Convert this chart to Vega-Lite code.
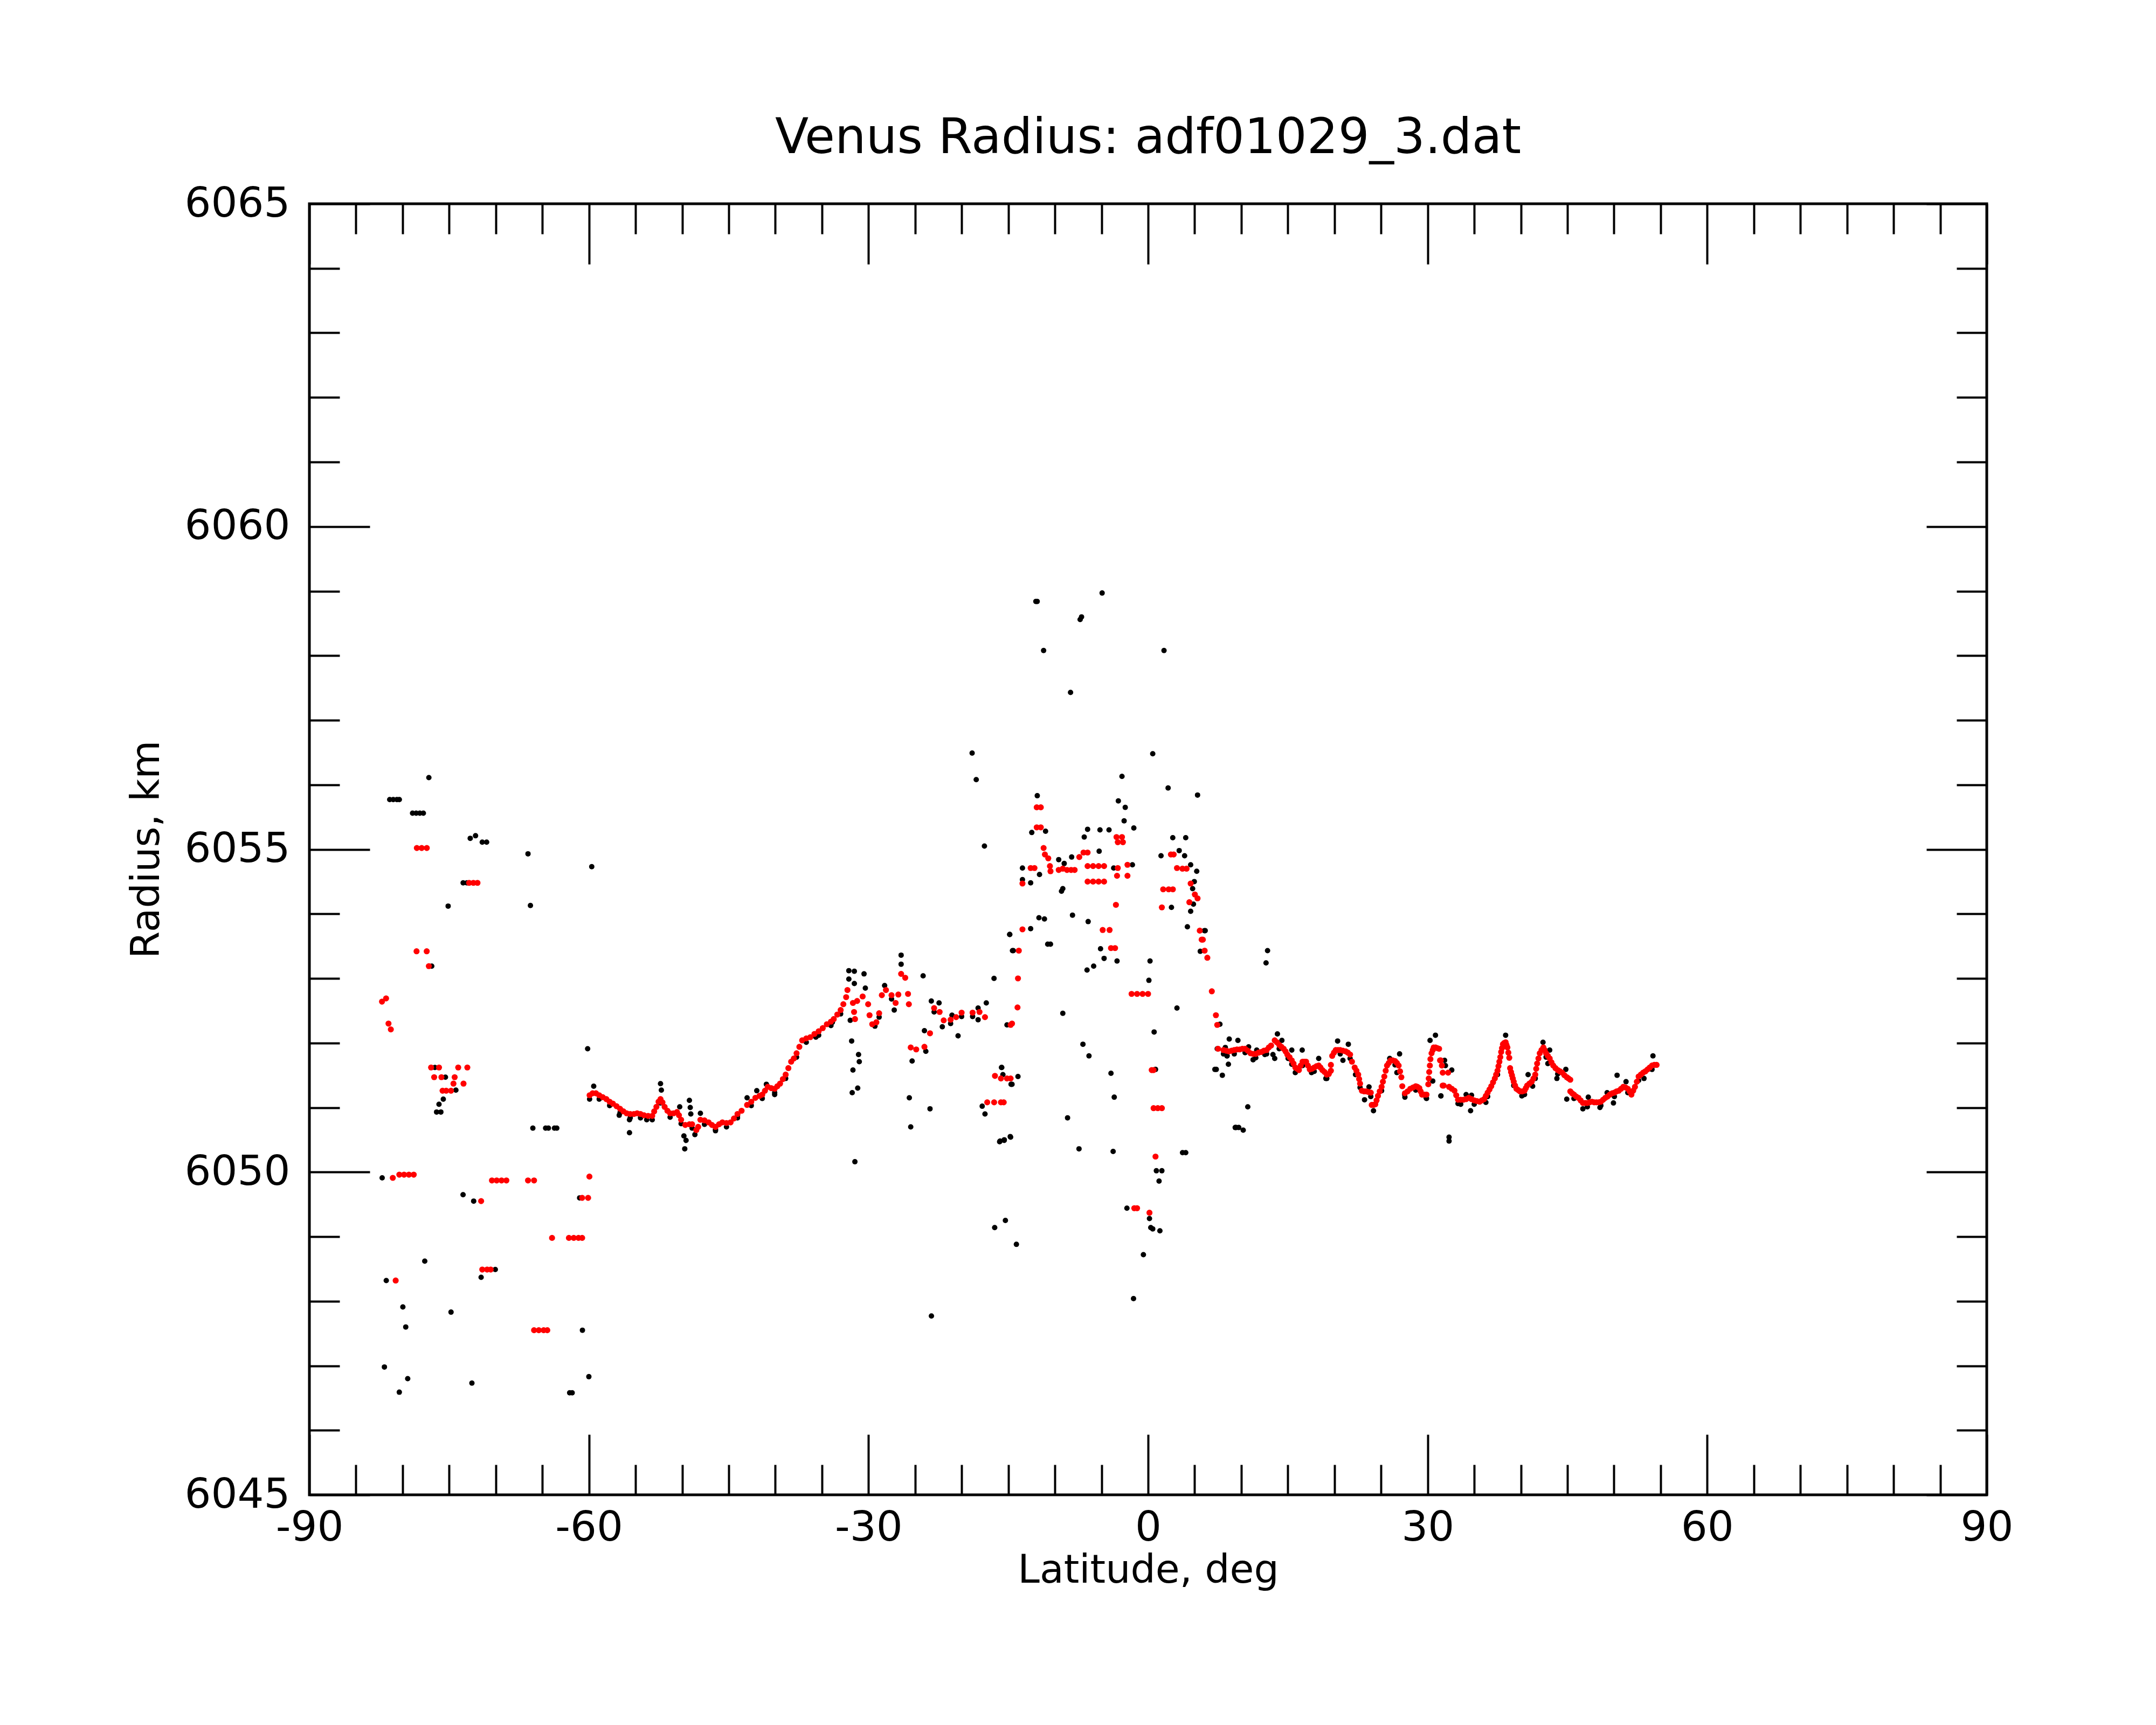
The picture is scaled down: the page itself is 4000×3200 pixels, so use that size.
{
"$schema": "https://vega.github.io/schema/vega-lite/v6.json",
"width": 3112, "height": 2395,
"autosize": {"type": "none"},
"padding": {"left": 574, "top": 378, "right": 314, "bottom": 427},
"background": "white",
"title": {"text": "Venus Radius: adf01029_3.dat", "fontSize": 91, "fontWeight": "normal", "font": "DejaVu Sans", "color": "black", "anchor": "middle", "baseline": "alphabetic", "offset": -36, "frame": "group"},
"config": {
 "font": "DejaVu Sans",
 "view": {"stroke": "black", "strokeWidth": 5},
 "axis": {"grid": false, "domain": false, "tickColor": "black", "tickWidth": 4, "labelColor": "black", "titleColor": "black", "labelFont": "DejaVu Sans", "titleFont": "DejaVu Sans", "labelFontSize": 77, "titleFontSize": 73, "titleFontWeight": "normal", "labelFlush": false, "labelOverlap": false, "labelBound": false, "labelLimit": 0}
},
"resolve": {"axis": {"x": "independent", "y": "independent"}},
"datasets": {
"raw": [
{"lat":-77.18,"r":6056.11},{"lat":-81.38,"r":6055.77},{"lat":-81.0,"r":6055.77},{"lat":-80.61,"r":6055.77},{"lat":-80.35,"r":6055.77},
{"lat":-78.93,"r":6055.56},{"lat":-78.54,"r":6055.56},{"lat":-78.15,"r":6055.56},{"lat":-77.77,"r":6055.56},
{"lat":-72.74,"r":6055.17},{"lat":-72.17,"r":6055.21},{"lat":-71.45,"r":6055.11},{"lat":-70.98,"r":6055.11},
{"lat":-66.54,"r":6054.93},{"lat":-59.7,"r":6054.73},{"lat":-73.5,"r":6054.48},{"lat":-73.1,"r":6054.48},
{"lat":-75.11,"r":6054.12},{"lat":-66.28,"r":6054.13},{"lat":-76.87,"r":6053.19},{"lat":-60.14,"r":6051.91},
{"lat":-76.53,"r":6051.62},{"lat":-75.4,"r":6051.47},{"lat":-74.28,"r":6051.27},
{"lat":-75.63,"r":6051.13},{"lat":-76.09,"r":6051.05},{"lat":-76.35,"r":6050.93},{"lat":-75.89,"r":6050.93},
{"lat":-66.02,"r":6050.68},{"lat":-64.65,"r":6050.68},{"lat":-64.35,"r":6050.68},{"lat":-63.7,"r":6050.68},{"lat":-63.45,"r":6050.68},
{"lat":-82.19,"r":6049.91},{"lat":-73.51,"r":6049.65},{"lat":-72.37,"r":6049.55},{"lat":-61.0,"r":6049.6},
{"lat":-77.62,"r":6048.62},{"lat":-81.75,"r":6048.32},{"lat":-70.05,"r":6048.49},{"lat":-71.57,"r":6048.37},
{"lat":-79.97,"r":6047.91},{"lat":-79.66,"r":6047.6},{"lat":-74.8,"r":6047.83},{"lat":-60.7,"r":6047.55},
{"lat":-81.95,"r":6046.98},{"lat":-79.45,"r":6046.8},{"lat":-80.35,"r":6046.59},{"lat":-72.56,"r":6046.73},{"lat":-62.07,"r":6046.58},{"lat":-61.8,"r":6046.58},{"lat":-60.01,"r":6046.83},
{"lat":-59.49,"r":6051.33},{"lat":-56.75,"r":6050.88},{"lat":-55.65,"r":6050.81},{"lat":-55.65,"r":6050.61},{"lat":-53.8,"r":6050.81},{"lat":-52.32,"r":6051.37},{"lat":-52.23,"r":6051.27},{"lat":-50.26,"r":6051.01},{"lat":-49.22,"r":6051.11},{"lat":-49.13,"r":6051.0},{"lat":-49.07,"r":6050.9},{"lat":-49.81,"r":6050.56},{"lat":-49.58,"r":6050.49},{"lat":-49.72,"r":6050.36},{"lat":-48.63,"r":6050.58},{"lat":-48.04,"r":6050.91},{"lat":-46.42,"r":6050.66},{"lat":-44.06,"r":6050.87},{"lat":-43.03,"r":6051.15},{"lat":-41.99,"r":6051.26},{"lat":-40.96,"r":6051.36},{"lat":-40.07,"r":6051.2},{"lat":-35.65,"r":6052.09},{"lat":-33.88,"r":6052.32},{"lat":-32.11,"r":6053.12},{"lat":-31.52,"r":6053.11},{"lat":-30.48,"r":6053.07},{"lat":-32.11,"r":6052.99},{"lat":-31.52,"r":6052.92},{"lat":-30.34,"r":6052.85},{"lat":-31.96,"r":6052.35},{"lat":-31.81,"r":6052.03},{"lat":-31.07,"r":6051.82},{"lat":-30.99,"r":6051.71},{"lat":-31.67,"r":6051.58},{"lat":-31.75,"r":6051.23},{"lat":-31.16,"r":6051.3},{"lat":-31.46,"r":6050.16},{"lat":-29.31,"r":6052.26},{"lat":-28.27,"r":6052.89},{"lat":-27.24,"r":6052.51},{"lat":-26.5,"r":6053.36},{"lat":-26.5,"r":6053.22},{"lat":-24.14,"r":6053.04},{"lat":-25.62,"r":6051.15},{"lat":-25.47,"r":6050.7},{"lat":-25.32,"r":6051.72},{"lat":-24.0,"r":6052.19},{"lat":-23.85,"r":6051.87},{"lat":-23.4,"r":6050.98},{"lat":-23.26,"r":6052.65},{"lat":-22.43,"r":6052.62},{"lat":-22.08,"r":6052.25},{"lat":-21.04,"r":6052.43},{"lat":-20.39,"r":6052.11},{"lat":-18.24,"r":6052.54},{"lat":-17.36,"r":6052.62},{"lat":-18.24,"r":6052.36},{"lat":-16.53,"r":6053.0},{"lat":-14.85,"r":6053.68},{"lat":-14.55,"r":6053.43},{"lat":-17.8,"r":6051.02},{"lat":-17.5,"r":6050.9},{"lat":-15.73,"r":6051.62},{"lat":-15.58,"r":6051.51},{"lat":-15.88,"r":6050.48},{"lat":-15.44,"r":6050.49},{"lat":-14.79,"r":6050.55},{"lat":-14.7,"r":6051.36},
{"lat":-23.25,"r":6047.77},{"lat":-18.88,"r":6056.49},{"lat":-18.44,"r":6056.08},{"lat":-17.56,"r":6055.05},{"lat":-16.46,"r":6049.14},{"lat":-15.31,"r":6049.25},{"lat":-14.13,"r":6048.88},
{"lat":-12.04,"r":6058.84},{"lat":-11.9,"r":6058.84},{"lat":-4.93,"r":6058.97},{"lat":-7.29,"r":6058.56},{"lat":-7.14,"r":6058.6},{"lat":-11.21,"r":6058.08},{"lat":1.71,"r":6058.08},{"lat":-8.32,"r":6057.43},{"lat":0.5,"r":6056.48},{"lat":-2.8,"r":6056.13},{"lat":2.15,"r":6055.95},{"lat":5.31,"r":6055.84},{"lat":-11.89,"r":6055.83},{"lat":-3.19,"r":6055.75},{"lat":-2.45,"r":6055.65},{"lat":-2.57,"r":6055.44},{"lat":-1.53,"r":6055.33},{"lat":-4.19,"r":6055.3},{"lat":-5.16,"r":6055.3},{"lat":-6.49,"r":6055.31},{"lat":-6.85,"r":6055.19},{"lat":-12.48,"r":6055.26},{"lat":-11.0,"r":6055.28},{"lat":-5.25,"r":6054.97},{"lat":-3.69,"r":6054.71},{"lat":-1.68,"r":6054.76},{"lat":2.65,"r":6055.18},{"lat":4.04,"r":6055.18},{"lat":3.34,"r":6054.98},{"lat":3.92,"r":6054.9},{"lat":1.39,"r":6054.9},{"lat":4.57,"r":6054.76},{"lat":5.22,"r":6054.66},{"lat":4.96,"r":6054.5},{"lat":4.78,"r":6054.39},{"lat":4.87,"r":6054.15},{"lat":4.57,"r":6054.04},{"lat":4.22,"r":6053.8},{"lat":2.51,"r":6054.1},{"lat":6.05,"r":6053.74},{"lat":5.6,"r":6053.42},{"lat":-13.48,"r":6054.71},{"lat":-13.48,"r":6054.53},{"lat":-12.6,"r":6054.48},{"lat":-11.65,"r":6054.61},{"lat":-9.59,"r":6054.84},{"lat":-9.0,"r":6054.78},{"lat":-8.2,"r":6054.88},{"lat":-9.15,"r":6054.39},{"lat":-9.29,"r":6054.35},{"lat":-8.11,"r":6053.98},{"lat":-6.43,"r":6053.88},{"lat":-11.71,"r":6053.94},{"lat":-11.12,"r":6053.92},{"lat":-12.6,"r":6053.77},{"lat":-14.84,"r":6053.68},{"lat":-14.46,"r":6053.43},{"lat":-10.77,"r":6053.53},{"lat":-10.47,"r":6053.53},{"lat":-6.55,"r":6053.13},{"lat":-5.84,"r":6053.19},{"lat":-5.1,"r":6053.46},{"lat":-4.72,"r":6053.31},{"lat":-3.33,"r":6053.27},{"lat":0.21,"r":6053.27},{"lat":0.09,"r":6052.97},{"lat":3.1,"r":6052.54},{"lat":-9.15,"r":6052.46},{"lat":-15.14,"r":6052.28},{"lat":-6.99,"r":6051.98},{"lat":-6.34,"r":6051.8},{"lat":0.65,"r":6052.17},{"lat":-3.98,"r":6051.53},{"lat":-3.63,"r":6051.16},{"lat":-8.64,"r":6050.84},{"lat":0.8,"r":6051.59},{"lat":4.04,"r":6050.3},{"lat":3.7,"r":6050.3},{"lat":-7.41,"r":6050.36},{"lat":-3.75,"r":6050.32},{"lat":0.89,"r":6050.02},{"lat":1.18,"r":6049.86},{"lat":1.48,"r":6050.02},{"lat":-2.27,"r":6049.44},{"lat":0.15,"r":6049.28},{"lat":0.29,"r":6049.14},{"lat":0.5,"r":6049.12},{"lat":1.27,"r":6049.09},{"lat":-0.5,"r":6048.72},{"lat":-1.56,"r":6048.04},{"lat":-15.93,"r":6050.47},{"lat":-15.43,"r":6050.5},{"lat":-14.75,"r":6050.54},{"lat":-13.96,"r":6051.48},{"lat":-15.7,"r":6051.62},{"lat":-14.6,"r":6051.36},{"lat":7.17,"r":6051.59},{"lat":7.97,"r":6051.5},{"lat":8.47,"r":6051.8},{"lat":8.62,"r":6051.67},{"lat":8.71,"r":6052.06},{"lat":9.44,"r":6050.69},
{"lat":6.13,"r":6053.74},{"lat":12.82,"r":6053.43},{"lat":12.66,"r":6053.24},{"lat":7.71,"r":6052.29},{"lat":7.42,"r":6051.91},{"lat":9.64,"r":6052.04},{"lat":8.29,"r":6051.93},{"lat":8.48,"r":6051.8},{"lat":7.32,"r":6051.59},{"lat":10.7,"r":6051.01},{"lat":9.35,"r":6050.69},{"lat":9.73,"r":6050.69},{"lat":10.21,"r":6050.65},{"lat":10.79,"r":6051.94},{"lat":11.27,"r":6051.74},{"lat":11.66,"r":6051.89},{"lat":12.53,"r":6051.82},{"lat":13.4,"r":6051.82},{"lat":13.59,"r":6051.76},{"lat":13.88,"r":6052.14},{"lat":14.36,"r":6052.04},{"lat":15.03,"r":6051.76},{"lat":15.42,"r":6051.89},{"lat":15.8,"r":6051.54},{"lat":16.54,"r":6051.89},{"lat":17.54,"r":6051.54},{"lat":18.31,"r":6051.76},{"lat":19.08,"r":6051.45},{"lat":20.34,"r":6052.03},{"lat":20.91,"r":6051.73},{"lat":21.49,"r":6051.98},{"lat":22.26,"r":6051.51},{"lat":23.23,"r":6051.12},{"lat":23.71,"r":6051.32},{"lat":24.19,"r":6050.95},{"lat":25.93,"r":6051.76},{"lat":26.99,"r":6051.83},{"lat":26.7,"r":6051.54},{"lat":27.53,"r":6051.2},{"lat":29.84,"r":6051.15},{"lat":30.26,"r":6052.04},{"lat":30.84,"r":6052.12},{"lat":30.55,"r":6051.41},{"lat":31.42,"r":6051.18},
{"lat":31.82,"r":6051.73},{"lat":31.91,"r":6051.65},{"lat":32.59,"r":6051.58},{"lat":31.43,"r":6051.18},{"lat":32.3,"r":6050.54},{"lat":32.3,"r":6050.48},{"lat":33.55,"r":6051.05},{"lat":34.61,"r":6050.95},{"lat":34.13,"r":6051.2},{"lat":34.71,"r":6051.19},{"lat":36.25,"r":6051.08},{"lat":38.37,"r":6052.12},{"lat":40.78,"r":6051.51},{"lat":41.27,"r":6051.33},{"lat":40.11,"r":6051.18},{"lat":42.38,"r":6052.01},{"lat":43.1,"r":6051.89},{"lat":42.9,"r":6051.68},{"lat":43.87,"r":6051.45},{"lat":44.83,"r":6051.59},{"lat":44.93,"r":6051.13},{"lat":46.66,"r":6050.98},{"lat":47.24,"r":6051.16},{"lat":48.49,"r":6051.0},{"lat":49.26,"r":6051.23},{"lat":49.94,"r":6051.07},{"lat":50.33,"r":6051.5},{"lat":51.29,"r":6051.4},{"lat":53.22,"r":6051.45},{"lat":54.18,"r":6051.8},
{"lat":-59.93,"r":6051.13},{"lat":-58.9,"r":6051.13},{"lat":-57.78,"r":6051.03},{"lat":-56.66,"r":6050.92},{"lat":-55.57,"r":6050.84},{"lat":-54.47,"r":6050.84},{"lat":-53.21,"r":6050.81},{"lat":-52.32,"r":6051.07},{"lat":-51.29,"r":6050.85},{"lat":-50.11,"r":6050.75},{"lat":-48.93,"r":6050.68},{"lat":-47.6,"r":6050.74},{"lat":-46.42,"r":6050.64},{"lat":-45.24,"r":6050.7},{"lat":-44.06,"r":6050.84},{"lat":-42.58,"r":6051.03},{"lat":-41.4,"r":6051.14},{"lat":-40.07,"r":6051.23},{"lat":-38.89,"r":6051.45},{"lat":-37.72,"r":6051.78},{"lat":-36.68,"r":6052.01},{"lat":-35.35,"r":6052.12},{"lat":-34.03,"r":6052.27},{"lat":-32.99,"r":6052.45},{"lat":-28.86,"r":6052.4},{"lat":-27.53,"r":6052.68},{"lat":-22.96,"r":6052.48},{"lat":-21.19,"r":6052.3},{"lat":-20.01,"r":6052.41},{"lat":-18.83,"r":6052.41},
{"lat":8.09,"r":6051.83},{"lat":9.25,"r":6051.83},{"lat":10.41,"r":6051.85},{"lat":11.56,"r":6051.77},{"lat":12.72,"r":6051.83},{"lat":14.07,"r":6051.91},{"lat":15.42,"r":6051.67},{"lat":16.58,"r":6051.65},{"lat":17.83,"r":6051.56},{"lat":19.18,"r":6051.45},{"lat":20.62,"r":6051.83},{"lat":21.68,"r":6051.76},{"lat":22.75,"r":6051.31},{"lat":23.9,"r":6051.17},{"lat":25.06,"r":6051.26},{"lat":26.5,"r":6051.66},{"lat":27.56,"r":6051.16},{"lat":28.72,"r":6051.27},{"lat":29.88,"r":6051.14},{"lat":33.26,"r":6051.06},{"lat":35.0,"r":6051.05},{"lat":36.44,"r":6051.17},{"lat":37.5,"r":6051.51},{"lat":39.24,"r":6051.34},{"lat":40.4,"r":6051.2},{"lat":41.55,"r":6051.45},{"lat":42.71,"r":6051.78},{"lat":43.96,"r":6051.52},{"lat":45.7,"r":6051.14},{"lat":47.14,"r":6051.01},{"lat":48.59,"r":6051.03},{"lat":50.04,"r":6051.17},{"lat":51.48,"r":6051.23},{"lat":52.64,"r":6051.42},{"lat":54.08,"r":6051.59}
],
"fit": [
{"lat":-82.21,"r":6052.64},{"lat":-81.77,"r":6052.69},{"lat":-81.51,"r":6052.3},{"lat":-81.26,"r":6052.21},
{"lat":-81.05,"r":6049.91},{"lat":-80.35,"r":6049.96},{"lat":-79.84,"r":6049.96},{"lat":-79.32,"r":6049.96},{"lat":-78.8,"r":6049.96},
{"lat":-80.74,"r":6048.32},
{"lat":-78.47,"r":6055.02},{"lat":-77.95,"r":6055.02},{"lat":-77.4,"r":6055.02},
{"lat":-78.5,"r":6053.42},{"lat":-77.41,"r":6053.42},{"lat":-77.18,"r":6053.19},
{"lat":-76.94,"r":6051.62},{"lat":-76.09,"r":6051.62},{"lat":-74.03,"r":6051.62},{"lat":-73.05,"r":6051.62},
{"lat":-76.61,"r":6051.47},{"lat":-75.83,"r":6051.47},{"lat":-74.41,"r":6051.47},
{"lat":-74.54,"r":6051.37},{"lat":-73.46,"r":6051.37},
{"lat":-75.71,"r":6051.26},{"lat":-75.32,"r":6051.26},{"lat":-74.8,"r":6051.26},
{"lat":-72.86,"r":6054.48},{"lat":-72.4,"r":6054.48},{"lat":-71.96,"r":6054.48},
{"lat":-71.57,"r":6049.55},
{"lat":-70.41,"r":6049.87},{"lat":-69.9,"r":6049.87},{"lat":-69.38,"r":6049.87},{"lat":-68.86,"r":6049.87},
{"lat":-66.54,"r":6049.87},{"lat":-65.89,"r":6049.87},
{"lat":-71.45,"r":6048.49},{"lat":-70.93,"r":6048.49},{"lat":-70.54,"r":6048.49},
{"lat":-65.89,"r":6047.55},{"lat":-65.38,"r":6047.55},{"lat":-64.86,"r":6047.55},{"lat":-64.47,"r":6047.55},
{"lat":-63.96,"r":6048.98},{"lat":-62.15,"r":6048.98},{"lat":-61.63,"r":6048.98},{"lat":-61.12,"r":6048.98},{"lat":-60.73,"r":6048.98},
{"lat":-60.73,"r":6049.6},{"lat":-60.09,"r":6049.6},{"lat":-59.95,"r":6049.93},
{"lat":-59.93,"r":6051.19},{"lat":-59.61,"r":6051.22},{"lat":-59.25,"r":6051.22},{"lat":-58.9,"r":6051.19},{"lat":-58.52,"r":6051.16},{"lat":-58.13,"r":6051.13},{"lat":-57.78,"r":6051.09},{"lat":-57.43,"r":6051.06},{"lat":-57.04,"r":6051.02},{"lat":-56.66,"r":6050.98},{"lat":-56.3,"r":6050.94},{"lat":-55.95,"r":6050.91},{"lat":-55.57,"r":6050.9},{"lat":-55.18,"r":6050.9},{"lat":-54.83,"r":6050.91},{"lat":-54.47,"r":6050.9},{"lat":-54.09,"r":6050.88},{"lat":-53.65,"r":6050.87},{"lat":-53.21,"r":6050.87},{"lat":-53.0,"r":6050.94},{"lat":-52.76,"r":6051.01},{"lat":-52.53,"r":6051.09},{"lat":-52.32,"r":6051.13},{"lat":-52.11,"r":6051.08},{"lat":-51.88,"r":6051.01},{"lat":-51.58,"r":6050.95},{"lat":-51.29,"r":6050.91},{"lat":-50.93,"r":6050.91},{"lat":-50.55,"r":6050.93},{"lat":-50.34,"r":6050.88},{"lat":-50.11,"r":6050.81},{"lat":-49.66,"r":6050.73},{"lat":-49.22,"r":6050.74},{"lat":-48.93,"r":6050.74},{"lat":-48.48,"r":6050.65},{"lat":-48.28,"r":6050.7},{"lat":-48.04,"r":6050.81},{"lat":-47.6,"r":6050.8},{"lat":-47.16,"r":6050.77},{"lat":-46.8,"r":6050.73},{"lat":-46.42,"r":6050.7},{"lat":-46.04,"r":6050.74},{"lat":-45.68,"r":6050.77},{"lat":-45.24,"r":6050.76},{"lat":-44.8,"r":6050.77},{"lat":-44.44,"r":6050.83},{"lat":-44.06,"r":6050.9},{"lat":-43.62,"r":6050.95},{"lat":-43.03,"r":6051.04},{"lat":-42.58,"r":6051.09},{"lat":-42.14,"r":6051.15},{"lat":-41.7,"r":6051.18},{"lat":-41.4,"r":6051.2},{"lat":-41.11,"r":6051.26},{"lat":-40.81,"r":6051.32},{"lat":-40.43,"r":6051.3},{"lat":-40.07,"r":6051.29},{"lat":-39.78,"r":6051.33},{"lat":-39.49,"r":6051.37},{"lat":-39.19,"r":6051.44},{"lat":-38.89,"r":6051.51},{"lat":-38.6,"r":6051.61},{"lat":-38.3,"r":6051.71},{"lat":-38.01,"r":6051.76},{"lat":-37.72,"r":6051.84},{"lat":-37.42,"r":6051.94},{"lat":-37.12,"r":6052.04},{"lat":-36.68,"r":6052.07},{"lat":-36.24,"r":6052.09},{"lat":-35.8,"r":6052.14},{"lat":-35.35,"r":6052.18},{"lat":-34.91,"r":6052.23},{"lat":-34.47,"r":6052.29},{"lat":-34.03,"r":6052.33},{"lat":-33.73,"r":6052.37},{"lat":-33.35,"r":6052.44},{"lat":-32.99,"r":6052.51},{"lat":-32.7,"r":6052.6},{"lat":-32.4,"r":6052.71},{"lat":-32.26,"r":6052.82},{"lat":-31.67,"r":6052.62},{"lat":-31.55,"r":6052.48},{"lat":-31.45,"r":6052.37},{"lat":-31.22,"r":6052.65},{"lat":-30.63,"r":6052.72},{"lat":-30.04,"r":6052.6},{"lat":-29.89,"r":6052.43},{"lat":-29.6,"r":6052.29},{"lat":-29.16,"r":6052.32},{"lat":-28.86,"r":6052.46},{"lat":-28.57,"r":6052.74},{"lat":-28.13,"r":6052.82},{"lat":-27.53,"r":6052.74},{"lat":-27.09,"r":6052.62},{"lat":-26.8,"r":6052.75},{"lat":-26.5,"r":6053.07},{"lat":-26.06,"r":6053.01},{"lat":-25.76,"r":6052.76},{"lat":-25.67,"r":6052.6},{"lat":-25.47,"r":6051.93},{"lat":-24.88,"r":6051.9},{"lat":-24.0,"r":6051.94},{"lat":-23.4,"r":6052.15},{"lat":-22.96,"r":6052.54},{"lat":-22.37,"r":6052.48},{"lat":-21.93,"r":6052.35},{"lat":-21.19,"r":6052.36},{"lat":-20.6,"r":6052.4},{"lat":-20.01,"r":6052.47},{"lat":-18.83,"r":6052.47},{"lat":-18.09,"r":6052.48},{"lat":-17.5,"r":6052.4},
{"lat":-17.26,"r":6051.08},{"lat":-16.52,"r":6051.08},{"lat":-15.79,"r":6051.08},{"lat":-15.49,"r":6051.08},
{"lat":-16.43,"r":6051.49},{"lat":-15.79,"r":6051.45},{"lat":-15.14,"r":6051.45},{"lat":-14.75,"r":6051.45},
{"lat":-14.75,"r":6052.28},{"lat":-14.6,"r":6052.3},{"lat":-14.01,"r":6052.55},{"lat":-13.96,"r":6053.0},{"lat":-13.87,"r":6053.43},{"lat":-13.48,"r":6053.76},
{"lat":-13.48,"r":6054.47},{"lat":-12.6,"r":6054.71},{"lat":-12.19,"r":6054.71},
{"lat":-11.95,"r":6055.65},{"lat":-11.51,"r":6055.65},{"lat":-11.95,"r":6055.34},{"lat":-11.51,"r":6055.34},
{"lat":-11.21,"r":6055.02},{"lat":-11.07,"r":6054.92},{"lat":-10.71,"r":6054.86},{"lat":-10.53,"r":6054.74},{"lat":-10.47,"r":6054.66},
{"lat":-9.59,"r":6054.68},{"lat":-9.15,"r":6054.7},{"lat":-8.7,"r":6054.68},{"lat":-8.26,"r":6054.68},{"lat":-7.88,"r":6054.68},
{"lat":-7.38,"r":6054.88},{"lat":-6.93,"r":6054.95},{"lat":-6.49,"r":6054.95},
{"lat":-6.49,"r":6054.74},{"lat":-5.9,"r":6054.74},{"lat":-5.31,"r":6054.74},{"lat":-4.72,"r":6054.74},
{"lat":-6.49,"r":6054.5},{"lat":-5.9,"r":6054.5},{"lat":-5.31,"r":6054.5},{"lat":-4.72,"r":6054.5},
{"lat":-3.39,"r":6055.19},{"lat":-2.8,"r":6055.19},{"lat":-3.25,"r":6055.11},{"lat":-2.7,"r":6055.11},
{"lat":-3.25,"r":6054.71},{"lat":-2.21,"r":6054.76},{"lat":-3.33,"r":6054.59},{"lat":-2.21,"r":6054.59},
{"lat":-3.45,"r":6054.14},{"lat":-4.87,"r":6053.75},{"lat":-4.13,"r":6053.75},{"lat":-3.98,"r":6053.47},{"lat":-3.54,"r":6053.47},
{"lat":-1.77,"r":6052.76},{"lat":-1.18,"r":6052.76},{"lat":-0.59,"r":6052.76},{"lat":0.0,"r":6052.76},
{"lat":0.39,"r":6051.58},{"lat":0.59,"r":6051.58},{"lat":0.59,"r":6050.99},{"lat":1.04,"r":6050.99},{"lat":1.48,"r":6050.99},
{"lat":0.8,"r":6050.24},{"lat":-1.48,"r":6049.44},{"lat":-1.18,"r":6049.44},{"lat":0.15,"r":6049.37},
{"lat":1.62,"r":6054.38},{"lat":2.21,"r":6054.38},{"lat":2.66,"r":6054.38},{"lat":1.48,"r":6054.1},
{"lat":2.45,"r":6054.92},{"lat":2.75,"r":6054.92},{"lat":3.1,"r":6054.71},{"lat":3.69,"r":6054.7},{"lat":4.13,"r":6054.7},
{"lat":4.57,"r":6054.47},{"lat":4.43,"r":6054.18},{"lat":5.02,"r":6054.3},{"lat":5.31,"r":6054.24},
{"lat":5.55,"r":6053.74},{"lat":5.75,"r":6053.6},{"lat":5.88,"r":6053.6},{"lat":6.07,"r":6053.43},{"lat":6.36,"r":6053.32},
{"lat":6.84,"r":6052.8},{"lat":7.28,"r":6052.43},{"lat":7.42,"r":6052.28},{"lat":7.51,"r":6051.91},
{"lat":8.09,"r":6051.89},{"lat":8.67,"r":6051.87},{"lat":9.25,"r":6051.89},{"lat":9.83,"r":6051.9},{"lat":10.41,"r":6051.91},{"lat":10.99,"r":6051.84},{"lat":11.56,"r":6051.83},{"lat":12.14,"r":6051.86},{"lat":12.72,"r":6051.89},{"lat":13.2,"r":6051.96},{"lat":13.59,"r":6052.04},{"lat":14.07,"r":6051.97},{"lat":14.55,"r":6051.91},{"lat":14.94,"r":6051.82},{"lat":15.42,"r":6051.73},{"lat":15.8,"r":6051.62},{"lat":16.19,"r":6051.58},{"lat":16.58,"r":6051.71},{"lat":16.96,"r":6051.71},{"lat":17.35,"r":6051.59},{"lat":17.83,"r":6051.62},{"lat":18.31,"r":6051.65},{"lat":18.7,"r":6051.58},{"lat":19.18,"r":6051.51},{"lat":19.62,"r":6051.57},{"lat":19.62,"r":6051.66},{"lat":19.76,"r":6051.8},{"lat":20.14,"r":6051.89},{"lat":20.62,"r":6051.89},{"lat":21.2,"r":6051.87},{"lat":21.68,"r":6051.82},{"lat":21.88,"r":6051.71},{"lat":22.17,"r":6051.62},{"lat":22.55,"r":6051.51},{"lat":22.75,"r":6051.37},{"lat":22.94,"r":6051.26},{"lat":23.42,"r":6051.25},{"lat":23.9,"r":6051.23},{"lat":24.0,"r":6051.04},{"lat":24.38,"r":6051.05},{"lat":24.67,"r":6051.18},{"lat":25.06,"r":6051.32},{"lat":25.35,"r":6051.48},{"lat":25.64,"r":6051.65},{"lat":26.02,"r":6051.73},{"lat":26.5,"r":6051.72},{"lat":26.89,"r":6051.65},{"lat":27.18,"r":6051.47},{"lat":27.28,"r":6051.33},{"lat":27.56,"r":6051.22},{"lat":28.14,"r":6051.29},{"lat":28.72,"r":6051.33},{"lat":29.11,"r":6051.3},{"lat":29.4,"r":6051.2},{"lat":29.88,"r":6051.2},{"lat":30.07,"r":6051.36},{"lat":30.17,"r":6051.55},{"lat":30.3,"r":6051.75},{"lat":30.42,"r":6051.84},{"lat":30.65,"r":6051.93},{"lat":30.85,"r":6051.93},{"lat":31.23,"r":6051.91},{"lat":31.33,"r":6051.73},{"lat":31.42,"r":6051.73},{"lat":31.53,"r":6051.65},{"lat":31.62,"r":6051.54},{"lat":32.2,"r":6051.54},{"lat":31.61,"r":6051.34},{"lat":31.72,"r":6051.34},{"lat":32.3,"r":6051.32},{"lat":32.88,"r":6051.26},{"lat":33.26,"r":6051.12},{"lat":33.84,"r":6051.12},{"lat":34.42,"r":6051.15},{"lat":35.0,"r":6051.11},{"lat":35.58,"r":6051.09},{"lat":36.06,"r":6051.13},{"lat":36.44,"r":6051.23},{"lat":36.83,"r":6051.33},{"lat":37.21,"r":6051.45},{"lat":37.5,"r":6051.57},{"lat":37.7,"r":6051.71},{"lat":37.89,"r":6051.86},{"lat":38.08,"r":6051.98},{"lat":38.37,"r":6052.01},{"lat":38.56,"r":6051.93},{"lat":38.76,"r":6051.77},{"lat":38.85,"r":6051.61},{"lat":39.05,"r":6051.5},{"lat":39.24,"r":6051.4},{"lat":39.53,"r":6051.29},{"lat":39.91,"r":6051.25},{"lat":40.4,"r":6051.26},{"lat":40.68,"r":6051.34},{"lat":41.17,"r":6051.4},{"lat":41.55,"r":6051.51},{"lat":41.75,"r":6051.68},{"lat":42.03,"r":6051.84},{"lat":42.42,"r":6051.93},{"lat":42.71,"r":6051.84},{"lat":43.1,"r":6051.76},{"lat":43.48,"r":6051.65},{"lat":43.96,"r":6051.58},{"lat":44.44,"r":6051.54},{"lat":44.93,"r":6051.47},{"lat":45.31,"r":6051.43},{"lat":45.31,"r":6051.25},{"lat":45.7,"r":6051.2},{"lat":46.18,"r":6051.15},{"lat":46.66,"r":6051.07},{"lat":47.14,"r":6051.07},{"lat":47.63,"r":6051.09},{"lat":48.11,"r":6051.08},{"lat":48.59,"r":6051.09},{"lat":49.07,"r":6051.15},{"lat":49.55,"r":6051.2},{"lat":50.04,"r":6051.23},{"lat":50.52,"r":6051.26},{"lat":51.0,"r":6051.32},{"lat":51.48,"r":6051.29},{"lat":51.87,"r":6051.2},{"lat":52.25,"r":6051.32},{"lat":52.64,"r":6051.48},{"lat":53.12,"r":6051.54},{"lat":53.6,"r":6051.59},{"lat":54.08,"r":6051.65},{"lat":54.57,"r":6051.66},
{"lat":8.38,"r":6051.88},{"lat":8.96,"r":6051.88},{"lat":9.54,"r":6051.9},{"lat":10.12,"r":6051.91},{"lat":10.7,"r":6051.88},{"lat":11.28,"r":6051.83},{"lat":11.85,"r":6051.85},{"lat":12.43,"r":6051.88},{"lat":12.96,"r":6051.93},{"lat":13.83,"r":6052.01},{"lat":14.31,"r":6051.94},{"lat":14.75,"r":6051.87},{"lat":15.18,"r":6051.78},{"lat":15.61,"r":6051.68},{"lat":16.0,"r":6051.6},{"lat":16.38,"r":6051.65},{"lat":16.77,"r":6051.71},{"lat":17.15,"r":6051.65},{"lat":17.59,"r":6051.6},{"lat":18.07,"r":6051.64},{"lat":18.5,"r":6051.62},{"lat":18.94,"r":6051.55},{"lat":19.4,"r":6051.52},{"lat":19.95,"r":6051.85},{"lat":20.38,"r":6051.89},{"lat":20.91,"r":6051.88},{"lat":21.44,"r":6051.85},{"lat":22.36,"r":6051.57},{"lat":22.65,"r":6051.44},{"lat":23.18,"r":6051.25},{"lat":23.66,"r":6051.24},{"lat":24.19,"r":6051.04},{"lat":24.52,"r":6051.11},{"lat":24.86,"r":6051.25},{"lat":25.2,"r":6051.4},{"lat":25.5,"r":6051.57},{"lat":25.83,"r":6051.69},{"lat":26.26,"r":6051.73},{"lat":26.7,"r":6051.69},{"lat":27.04,"r":6051.56},{"lat":27.85,"r":6051.25},{"lat":28.43,"r":6051.31},{"lat":28.9,"r":6051.32},{"lat":29.25,"r":6051.25},{"lat":29.64,"r":6051.2},{"lat":30.12,"r":6051.45},{"lat":30.24,"r":6051.65},{"lat":30.55,"r":6051.89},{"lat":31.04,"r":6051.92},{"lat":32.59,"r":6051.29},{"lat":33.07,"r":6051.19},{"lat":33.55,"r":6051.12},{"lat":34.13,"r":6051.13},{"lat":34.71,"r":6051.13},{"lat":35.29,"r":6051.1},{"lat":35.82,"r":6051.11},{"lat":36.25,"r":6051.18},{"lat":36.64,"r":6051.28},{"lat":37.02,"r":6051.39},{"lat":37.35,"r":6051.51},{"lat":37.6,"r":6051.64},{"lat":37.8,"r":6051.78},{"lat":37.98,"r":6051.92},{"lat":38.22,"r":6052.0},{"lat":38.46,"r":6051.97},{"lat":38.66,"r":6051.85},{"lat":38.95,"r":6051.55},{"lat":39.14,"r":6051.45},{"lat":39.38,"r":6051.34},{"lat":39.72,"r":6051.27},{"lat":40.15,"r":6051.25},{"lat":40.54,"r":6051.3},{"lat":40.92,"r":6051.37},{"lat":41.36,"r":6051.45},{"lat":41.65,"r":6051.6},{"lat":41.89,"r":6051.76},{"lat":42.22,"r":6051.89},{"lat":42.56,"r":6051.89},{"lat":42.9,"r":6051.8},{"lat":43.29,"r":6051.7},{"lat":43.72,"r":6051.61},{"lat":44.2,"r":6051.56},{"lat":44.68,"r":6051.5},{"lat":45.12,"r":6051.45},{"lat":45.5,"r":6051.22},{"lat":45.94,"r":6051.17},{"lat":46.42,"r":6051.11},{"lat":46.9,"r":6051.07},{"lat":47.38,"r":6051.08},{"lat":47.87,"r":6051.08},{"lat":48.35,"r":6051.08},{"lat":48.83,"r":6051.12},{"lat":49.31,"r":6051.17},{"lat":49.8,"r":6051.22},{"lat":50.28,"r":6051.25},{"lat":50.76,"r":6051.29},{"lat":51.24,"r":6051.31},{"lat":51.68,"r":6051.25},{"lat":52.06,"r":6051.26},{"lat":52.45,"r":6051.4},{"lat":52.88,"r":6051.51},{"lat":53.36,"r":6051.56},{"lat":53.84,"r":6051.62},{"lat":54.32,"r":6051.66}
]
},
"layer": [
{
 "data": {"name": "raw"},
 "mark": {"type": "point", "filled": true, "color": "black", "size": 100, "opacity": 1},
 "encoding": {
  "x": {"field": "lat", "type": "quantitative", "scale": {"domain": [-90, 90], "nice": false, "zero": false},
   "axis": {"orient": "bottom", "values": [-90,-85,-80,-75,-70,-65,-60,-55,-50,-45,-40,-35,-30,-25,-20,-15,-10,-5,0,5,10,15,20,25,30,35,40,45,50,55,60,65,70,75,80,85,90],
    "tickSize": {"condition": {"test": "datum.value % 30 === 0", "value": -112}, "value": -56},
    "labelExpr": "datum.value % 30 === 0 ? '' + datum.value : ''", "labelPadding": 135, "title": "Latitude, deg", "titlePadding": -51}},
  "y": {"field": "r", "type": "quantitative", "scale": {"domain": [6045, 6065], "nice": false, "zero": false},
   "axis": {"orient": "left", "values": [6045,6046,6047,6048,6049,6050,6051,6052,6053,6054,6055,6056,6057,6058,6059,6060,6061,6062,6063,6064,6065],
    "tickSize": {"condition": {"test": "datum.value % 5 === 0", "value": -112}, "value": -56},
    "labelExpr": "datum.value % 5 === 0 ? '' + datum.value : ''", "labelPadding": 148, "title": "Radius, km", "titlePadding": 65}}
 }
},
{
 "data": {"name": "fit"},
 "mark": {"type": "point", "filled": true, "color": "#ff0000", "size": 125, "opacity": 1},
 "encoding": {
  "x": {"field": "lat", "type": "quantitative", "scale": {"domain": [-90, 90], "nice": false, "zero": false},
   "axis": {"orient": "top", "values": [-90,-85,-80,-75,-70,-65,-60,-55,-50,-45,-40,-35,-30,-25,-20,-15,-10,-5,0,5,10,15,20,25,30,35,40,45,50,55,60,65,70,75,80,85,90],
    "tickSize": {"condition": {"test": "datum.value % 30 === 0", "value": -112}, "value": -56},
    "labels": false, "title": null}},
  "y": {"field": "r", "type": "quantitative", "scale": {"domain": [6045, 6065], "nice": false, "zero": false},
   "axis": {"orient": "right", "values": [6045,6046,6047,6048,6049,6050,6051,6052,6053,6054,6055,6056,6057,6058,6059,6060,6061,6062,6063,6064,6065],
    "tickSize": {"condition": {"test": "datum.value % 5 === 0", "value": -112}, "value": -56},
    "labels": false, "title": null}}
 }
}
]
}
